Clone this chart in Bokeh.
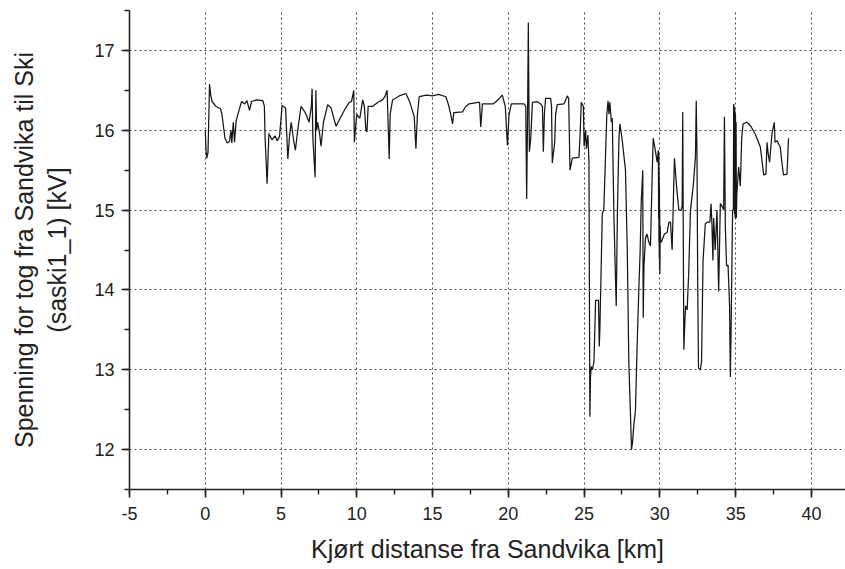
from bokeh.plotting import figure
from bokeh.models import Range1d, SingleIntervalTicker
from bokeh.embed import file_html
from bokeh.resources import INLINE

# distance from Sandvika [km]
km = [
    0.00, 0.05, 0.10, 0.18, 0.25, 0.28, 0.35, 0.45, 0.70, 1.00, 1.10, 1.30, 1.45, 1.60, 1.70, 1.75,
    1.85, 1.93, 2.04, 2.30, 2.40, 2.60, 2.75, 2.92, 3.05, 3.40, 3.80, 3.90, 3.95, 4.08, 4.15, 4.20,
    4.40, 4.60, 4.75, 4.90, 5.07, 5.30, 5.45, 5.55, 5.67, 5.85, 5.95, 6.10, 6.32, 6.50, 6.65, 6.85,
    7.00, 7.05, 7.10, 7.25, 7.30, 7.35, 7.42, 7.55, 7.64, 7.80, 8.08, 8.30, 8.63, 8.90, 9.18, 9.50,
    9.65, 9.80, 9.84, 9.90, 10.00, 10.20, 10.39, 10.50, 10.60, 10.67, 10.75, 11.05, 11.40, 11.70,
    11.85, 12.00, 12.08, 12.14, 12.20, 12.36, 12.80, 13.24, 13.50, 13.79, 13.90, 14.00, 14.12,
    14.60, 15.00, 15.40, 15.88, 16.05, 16.20, 16.32, 16.40, 16.98, 17.20, 17.40, 18.00, 18.10,
    18.18, 18.29, 19.00, 19.20, 19.40, 19.60, 19.80, 19.94, 20.05, 20.20, 20.60, 21.04, 21.15,
    21.21, 21.27, 21.32, 21.36, 21.39, 21.48, 21.59, 21.90, 22.13, 22.25, 22.31, 22.38, 22.46,
    22.79, 22.85, 22.90, 23.06, 23.12, 23.23, 23.67, 23.89, 23.98, 24.07, 24.22, 24.66, 24.75,
    24.81, 24.95, 25.00, 25.10, 25.15, 25.25, 25.32, 25.38, 25.42, 25.47, 25.55, 25.65, 25.76,
    25.85, 25.95, 26.00, 26.04, 26.20, 26.30, 26.35, 26.50, 26.58, 26.64, 26.70, 26.80, 26.86,
    26.96, 27.05, 27.12, 27.20, 27.30, 27.36, 27.50, 27.73, 27.85, 27.95, 28.05, 28.13, 28.20,
    28.28, 28.39, 28.50, 28.61, 28.70, 28.77, 28.87, 28.90, 28.95, 29.05, 29.15, 29.27, 29.38,
    29.50, 29.56, 29.70, 29.82, 29.90, 29.92, 29.93, 29.94, 29.95, 29.96, 29.97, 29.98, 29.99,
    30.00, 30.02, 30.05, 30.10, 30.30, 30.48, 30.60, 30.70, 30.81, 30.96, 31.10, 31.25, 31.40,
    31.47, 31.51, 31.55, 31.58, 31.65, 31.70, 31.80, 31.90, 32.02, 32.20, 32.35, 32.40, 32.45,
    32.50, 32.55, 32.67, 32.75, 32.85, 33.00, 33.15, 33.30, 33.38, 33.44, 33.50, 33.55, 33.65,
    33.77, 33.88, 33.99, 34.10, 34.21, 34.26, 34.32, 34.40, 34.50, 34.60, 34.65, 34.70, 34.80,
    34.85, 34.87, 34.89, 34.91, 34.93, 34.95, 34.97, 34.99, 35.01, 35.03, 35.05, 35.08, 35.20,
    35.31, 35.40, 35.49, 35.75, 36.00, 36.30, 36.63, 36.75, 36.85, 37.00, 37.07, 37.15, 37.24,
    37.40, 37.55, 37.60, 37.73, 37.94, 38.05, 38.16, 38.39, 38.49,
]

# train voltage [kV]
kv = [
    16.00, 15.75, 15.65, 15.72, 16.30, 16.58, 16.45, 16.36, 16.30, 16.27, 16.20, 15.90, 15.84, 15.86, 16.00, 15.84,
    16.10, 15.85, 16.12, 16.30, 16.36, 16.33, 16.37, 16.25, 16.36, 16.38, 16.37, 16.30, 15.90, 15.33, 15.70, 15.96,
    15.88, 15.93, 15.87, 15.92, 16.31, 16.28, 15.64, 15.90, 16.10, 15.85, 15.75, 16.00, 16.30, 16.25, 16.20, 16.10,
    16.30, 16.52, 15.90, 15.41, 16.50, 16.00, 16.10, 15.95, 15.80, 16.10, 16.32, 16.28, 16.05, 16.15, 16.25, 16.35,
    16.36, 16.50, 15.85, 16.00, 16.20, 16.15, 16.38, 16.30, 16.00, 15.98, 16.30, 16.30, 16.35, 16.38,
    16.42, 16.50, 16.00, 15.64, 16.20, 16.38, 16.43, 16.46, 16.35, 16.17, 15.77, 16.20, 16.42,
    16.44, 16.43, 16.45, 16.42, 16.32, 16.20, 16.08, 16.22, 16.23, 16.30, 16.33, 16.35, 16.35,
    16.04, 16.33, 16.33, 16.36, 16.40, 16.44, 16.30, 15.81, 16.20, 16.33, 16.33, 16.33, 16.30,
    15.14, 16.20, 17.35, 16.30, 15.73, 15.90, 16.35, 16.36, 16.33, 16.30, 15.73, 16.20, 16.40,
    16.40, 16.30, 15.59, 15.85, 16.20, 16.32, 16.33, 16.43, 16.40, 15.50, 15.65, 15.66, 16.00,
    16.35, 16.30, 15.80, 16.00, 15.77, 15.94, 15.60, 12.41, 12.90, 13.04, 13.00, 13.10, 13.87,
    13.87, 13.87, 13.29, 13.50, 14.96, 15.00, 15.30, 16.20, 16.37, 16.20, 16.35, 16.10, 16.15,
    15.00, 14.30, 13.80, 15.00, 15.90, 16.08, 15.90, 15.50, 14.50, 13.10, 12.50, 12.00, 12.10,
    12.30, 12.50, 13.30, 14.00, 14.50, 15.10, 15.50, 13.65, 14.30, 14.65, 14.70, 14.60, 14.55,
    15.50, 15.90, 15.75, 15.60, 15.75, 14.90, 15.70, 14.60, 15.50, 14.40, 15.30, 14.25, 15.00,
    14.20, 14.80, 14.60, 14.60, 14.70, 14.72, 14.85, 14.85, 14.50, 15.65, 15.30, 15.00, 15.00,
    15.05, 16.23, 14.50, 13.25, 13.60, 13.80, 13.75, 14.20, 15.00, 15.30, 15.67, 16.37, 15.67,
    14.00, 13.02, 13.00, 13.10, 14.37, 14.83, 14.85, 14.85, 15.08, 14.80, 14.37, 14.90, 14.50,
    15.00, 13.98, 15.08, 15.05, 15.00, 16.17, 14.80, 14.30, 14.31, 13.80, 12.91, 13.50, 15.00,
    15.00, 16.33, 15.00, 16.30, 14.95, 16.25, 14.90, 16.20, 14.95, 16.10, 14.90, 15.20, 15.54,
    15.30, 15.90, 16.08, 16.10, 16.05, 15.95, 15.79, 15.60, 15.44, 15.45, 15.85, 15.70, 15.60,
    15.96, 16.10, 15.85, 15.87, 15.79, 15.60, 15.44, 15.45, 15.90,
]

x_title = "Kjørt distanse fra Sandvika [km]"
y_title = "Spenning for tog fra Sandvika til Ski\n(saski1_1) [kV]"

FONT = "Liberation Sans"
INK = "#222222"

p = figure(width=845, height=569, output_backend="svg", toolbar_location=None,
           x_range=Range1d(-5, 42.25), y_range=Range1d(11.5, 17.5),
           min_border_left=129, min_border_right=0, min_border_top=10, min_border_bottom=80)
p.outline_line_color = None
p.background_fill_color = "white"
p.border_fill_color = "white"

p.line(km, kv, line_color="#161616", line_width=1.25)

p.xaxis.ticker = SingleIntervalTicker(interval=5, num_minor_ticks=2)
p.yaxis.ticker = SingleIntervalTicker(interval=1, num_minor_ticks=2)
p.xaxis.major_label_overrides = {-5: "-5"}
p.xaxis.axis_label = x_title
p.yaxis.axis_label = y_title

for ax in (p.xaxis, p.yaxis):
    ax.axis_line_color = INK
    ax.axis_line_width = 1.6
    ax.major_tick_line_color = INK
    ax.major_tick_line_width = 1.6
    ax.minor_tick_line_color = INK
    ax.minor_tick_line_width = 1.4
    ax.major_tick_in = 0
    ax.major_tick_out = 8
    ax.minor_tick_in = 0
    ax.minor_tick_out = 5
    ax.major_label_text_font = FONT
    ax.major_label_text_font_size = "18px"
    ax.major_label_text_color = INK
    ax.axis_label_text_font = FONT
    ax.axis_label_text_font_size = "25px"
    ax.axis_label_text_font_style = "normal"
    ax.axis_label_text_color = INK

p.xaxis.major_label_standoff = 9
p.yaxis.major_label_standoff = 7
p.xaxis.axis_label_standoff = 12
p.yaxis.axis_label_standoff = 20

for g in (p.xgrid, p.ygrid):
    g.grid_line_color = "#444444"
    g.grid_line_dash = "2 3"
    g.grid_line_width = 1

open("out.html", "w").write(file_html(p, INLINE))
